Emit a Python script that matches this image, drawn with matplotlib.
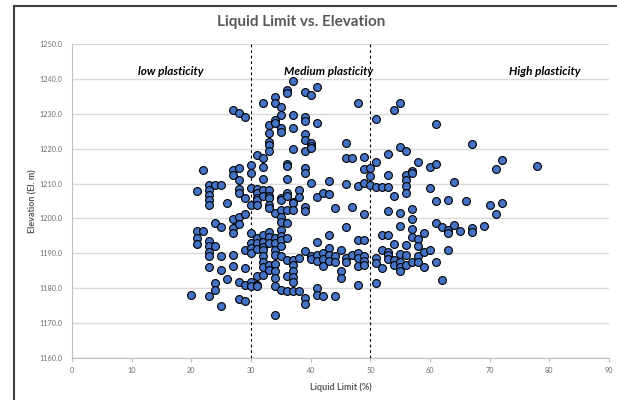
import matplotlib
matplotlib.use("Agg")
import matplotlib.pyplot as plt
from matplotlib.lines import Line2D
import matplotlib.ticker as ptick

# data, one row per liquid limit value
liquid_limit = (
    [20]
    + [21] * 4
    + [22] * 2
    + [23] * 11
    + [24] * 5
    + [25] * 5
    + [26] * 2
    + [27] * 8
    + [28] * 9
    + [29] * 7
    + [30] * 10
    + [31] * 12
    + [32] * 14
    + [33] * 15
    + [34] * 14
    + [35] * 15
    + [36] * 13
    + [37] * 13
    + [38] * 4
    + [39] * 13
    + [40] * 7
    + [41] * 8
    + [42] * 5
    + [43] * 6
    + [44] * 4
    + [45] * 3
    + [46] * 6
    + [47] * 3
    + [48] * 7
    + [49] * 8
    + [50] * 3
    + [51] * 6
    + [52] * 4
    + [53] * 8
    + [54] * 5
    + [55] * 8
    + [56] * 8
    + [57] * 7
    + [58] * 5
    + [59] * 3
    + [60] * 3
    + [61] * 5
    + [62] * 2
    + [63] * 4
    + [64] * 2
    + [65]
    + [66]
    + [67] * 3
    + [69]
    + [70]
    + [71] * 2
    + [72] * 2
    + [78]
)

elevation = [
    1178.0,
    1208.0, 1196.3, 1194.5, 1192.8,
    1213.9, 1196.5,
    1209.6, 1208.2, 1206.7, 1205.3, 1203.9, 1193.6, 1192.0, 1190.5, 1189.2, 1186.0, 1177.7,
    1209.6, 1198.8, 1192.1, 1181.5, 1179.6,
    1209.6, 1197.6, 1189.2, 1185.3, 1175.0,
    1204.3, 1182.6,
    1231.1, 1213.8, 1212.4, 1199.7, 1197.4, 1195.9, 1189.5, 1186.5,
    1230.1, 1214.4, 1211.0, 1208.3, 1207.2, 1200.5, 1198.5, 1181.8, 1177.0,
    1229.0, 1206.0, 1201.3, 1191.0, 1185.7, 1180.8, 1176.2,
    1215.3, 1213.0, 1208.6, 1203.9, 1195.8, 1192.9, 1191.5, 1190.0, 1181.9, 1180.7,
    1218.2, 1208.5, 1207.2, 1206.0, 1205.3, 1203.9, 1194.4, 1192.9, 1191.3, 1183.5, 1181.0, 1180.5,
    1233.2, 1217.2, 1214.8, 1211.2, 1208.2, 1206.3, 1195.3, 1193.3, 1191.8, 1191.0, 1189.1, 1187.6, 1186.2, 1183.8,
    1226.8, 1224.6, 1222.0, 1221.1, 1219.2, 1208.2, 1206.4, 1205.8, 1203.9, 1202.9, 1196.2, 1194.8, 1192.9, 1186.7, 1185.2,
    1234.7, 1233.2, 1228.2, 1227.5, 1201.5, 1194.3, 1193.1, 1191.0, 1189.5, 1186.8, 1185.0, 1182.9, 1180.5, 1172.4,
    1232.0, 1229.7, 1225.8, 1224.9, 1205.8, 1205.3, 1202.4, 1200.5, 1199.1, 1196.7, 1195.0, 1193.8, 1192.2, 1189.2, 1179.5,
    1236.8, 1236.0, 1215.7, 1214.9, 1211.2, 1207.4, 1206.4, 1202.4, 1198.6, 1194.3, 1188.1, 1183.5, 1179.3,
    1239.5, 1229.7, 1225.8, 1219.8, 1204.8, 1204.3, 1202.4, 1188.1, 1186.7, 1185.0, 1183.3, 1181.7, 1179.3,
    1208.2, 1206.1, 1188.7, 1179.3,
    1236.2, 1229.2, 1228.0, 1224.2, 1222.6, 1219.4, 1214.6, 1213.0, 1203.4, 1202.0, 1190.6, 1177.1, 1175.4,
    1235.3, 1221.5, 1220.8, 1220.1, 1210.3, 1189.1, 1188.3,
    1237.6, 1227.4, 1206.2, 1193.2, 1189.5, 1187.9, 1180.0, 1178.2,
    1207.4, 1190.0, 1188.3, 1186.4, 1177.9,
    1210.8, 1207.0, 1195.3, 1191.5, 1189.5, 1187.9,
    1203.0, 1189.2, 1187.6, 1177.8,
    1191.0, 1184.8, 1182.9,
    1221.7, 1217.4, 1209.9, 1197.5, 1188.6, 1187.4,
    1217.4, 1203.4, 1189.5,
    1233.0, 1209.3, 1193.7, 1190.0, 1188.6, 1186.4, 1181.0,
    1217.5, 1214.2, 1210.3, 1201.3, 1193.7, 1189.2, 1187.8, 1186.7,
    1214.4, 1212.3, 1209.6,
    1228.4, 1216.1, 1209.1, 1188.6, 1187.2, 1181.4,
    1209.1, 1195.3, 1191.0, 1185.7,
    1218.5, 1212.5, 1209.1, 1202.0, 1195.3, 1190.5, 1189.5, 1188.3,
    1231.1, 1206.3, 1192.7, 1188.1, 1186.7,
    1233.0, 1220.4, 1201.7, 1197.9, 1189.8, 1187.6, 1186.2, 1184.8,
    1219.4, 1212.5, 1211.0, 1209.3, 1207.4, 1192.4, 1189.5, 1186.7,
    1213.6, 1213.1, 1202.7, 1199.8, 1196.9, 1194.8, 1187.6,
    1216.3, 1194.0, 1192.1, 1189.2, 1187.6,
    1195.8, 1190.5, 1186.2,
    1214.7, 1208.7, 1191.0,
    1227.0, 1215.5, 1205.1, 1198.6, 1187.6,
    1197.5, 1182.4,
    1205.3, 1196.7, 1195.8, 1191.0,
    1210.4, 1198.0,
    1196.5,
    1205.0,
    1221.3, 1197.4, 1196.0,
    1197.7,
    1203.9,
    1214.3, 1201.3,
    1216.8, 1204.4,
    1215.1,
]

class_limits = [30, 50]
class_names = ["low plasticity", "Medium plasticity", "High plasticity"]
class_label_x = [16.5, 43.0, 79.3]

plt.rcParams['font.family'] = ['Lato', 'DejaVu Sans']

gray = "#595959"
fig = plt.figure(figsize=(6.17, 4.0), dpi=100)
ax = fig.add_axes([72 / 617, 1 - 358 / 400, (609 - 72) / 617, (358 - 44) / 400])

ax.grid(axis="y", color="#d9d9d9", linewidth=1.0)
ax.set_axisbelow(True)

for x in class_limits:
    ax.axvline(x, color="black", linestyle=(0, (2.5, 2.5)), linewidth=0.8, zorder=2)

ax.scatter(liquid_limit, elevation, s=32, color="#4472C4", edgecolors="black",
           linewidths=0.8, zorder=3)

for name, x in zip(class_names, class_label_x):
    ax.text(x, 1242, name, ha="center", va="center", fontsize=8.5,
            fontweight="bold", fontstyle="italic", color="black")

ax.set_xlim(0, 90)
ax.set_ylim(1160, 1250)
ax.set_xticks(range(0, 91, 10))
ax.set_yticks(range(1160, 1251, 10))
ax.yaxis.set_major_formatter(ptick.FormatStrFormatter("%.1f"))
ax.tick_params(axis="both", labelsize=5.2, labelcolor="#6e6e6e", color="#bfbfbf",
               length=3, width=0.8)
ax.tick_params(axis="y", length=0, pad=7)

for side in ["top", "right"]:
    ax.spines[side].set_visible(False)
for side in ["left", "bottom"]:
    ax.spines[side].set_color("#bfbfbf")
    ax.spines[side].set_linewidth(0.8)

ax.set_xlabel("Liquid Limit (%)", fontsize=6.5, fontweight="bold", color=gray, labelpad=6)
ax.set_ylabel("Elevation (El. m)", fontsize=6.5, fontweight="bold", color=gray)
ax.yaxis.set_label_coords(-0.064, 0.5)

fig.text(0.488, 1 - 22 / 400, "Liquid Limit vs. Elevation", ha="center", va="center",
         fontsize=11, fontweight="bold", color=gray)

# chart area border (only left and top show in the crop)
fig.add_artist(Line2D([14 / 617, 14 / 617], [0, 1 - 6 / 400], color="#404040", linewidth=1.5))
fig.add_artist(Line2D([14 / 617, 1], [1 - 6 / 400, 1 - 6 / 400], color="#404040", linewidth=1.5))

fig.savefig("out.png", dpi=100)
